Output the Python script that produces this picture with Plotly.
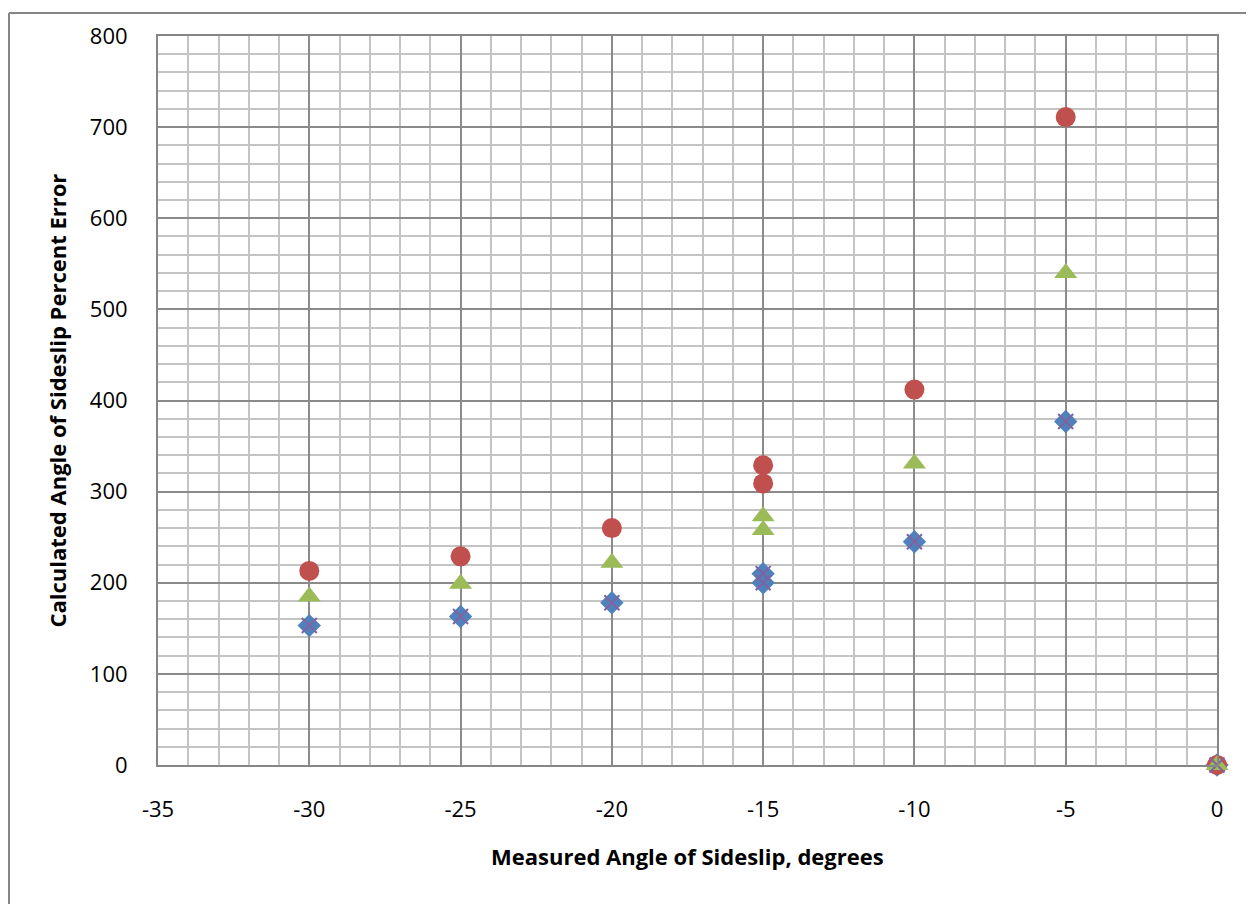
import plotly.graph_objects as go

x_vals = [-30, -25, -20, -15, -15, -10, -5, 0]
blue_diamond = [153, 163, 178, 210, 200, 245, 377, 0]
red_circle = [213, 229, 260, 329, 309, 412, 711, 0]
green_triangle = [185, 199, 222, 273, 258, 331, 540, 0]
purple_x = [153, 163, 178, 210, 200, 245, 377, 0]

x_tickvals = [-35, -30, -25, -20, -15, -10, -5, 0]
x_ticktext = ["-35", "-30", "-25", "-20", "-15", "-10", "-5", "0"]

x_title = "Measured Angle of Sideslip, degrees"
y_title = "Calculated Angle of Sideslip Percent Error"

FONT = "Open Sans"

fig = go.Figure()
fig.add_trace(go.Scatter(x=x_vals, y=blue_diamond, mode="markers", name="S1", cliponaxis=False,
                         marker=dict(symbol="diamond", size=18, color="#4F81BD")))
fig.add_trace(go.Scatter(x=x_vals, y=red_circle, mode="markers", name="S2", cliponaxis=False,
                         marker=dict(symbol="circle", size=20, color="#C0504D")))
fig.add_trace(go.Scatter(x=x_vals, y=green_triangle, mode="markers", name="S3", cliponaxis=False,
                         marker=dict(symbol="triangle-up", size=20, color="#9BBB59")))
fig.add_trace(go.Scatter(x=x_vals, y=purple_x, mode="markers", name="S4", cliponaxis=False,
                         marker=dict(symbol="x-thin", size=15, color="#8064A2",
                                     line=dict(width=2, color="#8064A2"))))

fig.update_xaxes(range=[-35, 0], tickvals=x_tickvals, ticktext=x_ticktext,
                 showgrid=True, gridcolor="#8a8a8a", gridwidth=2,
                 minor=dict(dtick=1, tick0=0, showgrid=True, gridcolor="#c4c4c4", gridwidth=2),
                 showline=True, linecolor="#868686", linewidth=2, mirror=True,
                 zeroline=False, ticks="", ticklabelstandoff=24,
                 tickfont=dict(family=FONT, size=22, color="#000"))
fig.update_yaxes(range=[0, 800], dtick=100,
                 showgrid=True, gridcolor="#8a8a8a", gridwidth=2,
                 minor=dict(dtick=20, showgrid=True, gridcolor="#c4c4c4", gridwidth=2),
                 showline=True, linecolor="#868686", linewidth=2, mirror=True,
                 zeroline=False, ticks="", ticklabelstandoff=24,
                 tickfont=dict(family=FONT, size=22, color="#000"))

fig.add_annotation(text=x_title, xref="paper", yref="paper", x=0.5, y=-0.1255,
                   xanchor="center", yanchor="middle", showarrow=False,
                   font=dict(family=FONT, size=22, color="#000", weight="bold"))
fig.add_annotation(text=y_title, xref="paper", yref="paper", x=-0.0954, y=0.5,
                   xanchor="center", yanchor="middle", showarrow=False, textangle=-90,
                   font=dict(family=FONT, size=22, color="#000", weight="bold"))

fig.add_shape(type="line", xref="paper", yref="paper", x0=-0.1407, x1=-0.1407, y0=1.0314, y1=-0.25,
              line=dict(color="#868686", width=2))
fig.add_shape(type="line", xref="paper", yref="paper", x0=-0.1407, x1=1.06, y0=1.0314, y1=1.0314,
              line=dict(color="#868686", width=2))

fig.update_layout(width=1254, height=904, showlegend=False,
                  plot_bgcolor="white", paper_bgcolor="white",
                  margin=dict(l=150, r=45, t=24, b=147),
                  font=dict(family=FONT))

fig.write_html("out.html")
